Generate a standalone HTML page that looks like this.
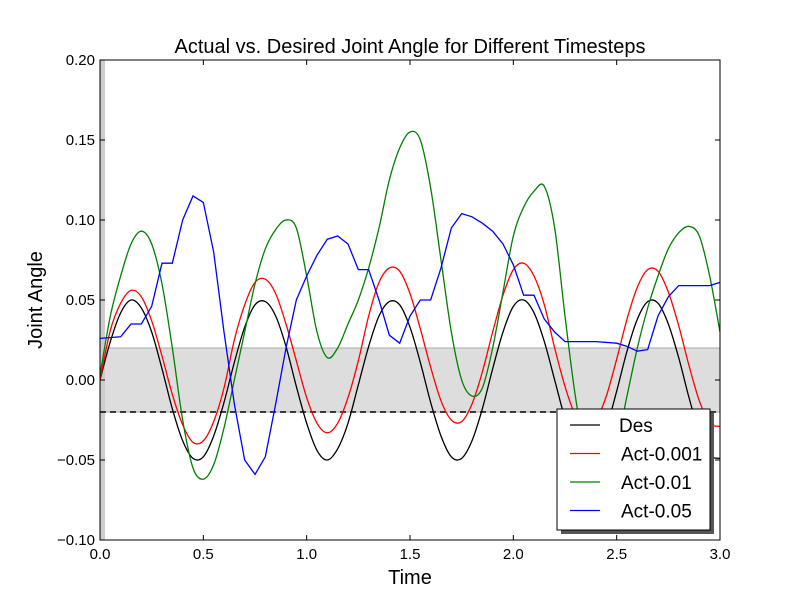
<!DOCTYPE html>
<html><head><meta charset="utf-8"><style>
body{margin:0;background:#fff;}
svg{display:block;font-family:"Liberation Sans",sans-serif;}
</style></head><body>
<svg id="chart" width="800" height="600">
<rect width="800" height="600" fill="#fff"/>
<g id="plot"></g>
</svg>
<script>
const times = [0,.05,.1,.15,.2,.25,.3,.35,.4,.45,.5,.55,.6,.65,.7,.75,.8,.85,.9,.95,1,1.05,1.1,1.15,1.2,1.25,1.3,1.35,1.4,1.45,1.5,1.55,1.6,1.65,1.7,1.75,1.8,1.85,1.9,1.95,2,2.05,2.1,2.15,2.2,2.25,2.3,2.35,2.4,2.45,2.5,2.55,2.6,2.65,2.7,2.75,2.8,2.85,2.9,2.95,3];
const desValues = [0,.024,.042,.050,.045,.030,.007,-.018,-.038,-.049,-.048,-.035,-.014,.011,.033,.047,.049,.040,.021,-.004,-.027,-.044,-.050,-.043,-.027,-.003,.021,.040,.049,.047,.033,.011,-.014,-.035,-.048,-.049,-.038,-.018,.007,.030,.046,.050,.042,.024,0,-.024,-.042,-.050,-.045,-.030,-.007,.018,.038,.049,.048,.035,.014,-.011,-.033,-.047,-.049];
const act001Values = [0,.031,.048,.056,.052,.037,.015,-.009,-.028,-.039,-.038,-.026,-.005,.025,.047,.061,.063,.054,.035,.012,-.011,-.027,-.033,-.027,-.011,.012,.040,.061,.070,.068,.054,.032,.008,-.013,-.025,-.026,-.015,.005,.030,.053,.069,.073,.065,.047,.020,-.004,-.022,-.030,-.025,-.010,.013,.038,.058,.069,.068,.055,.034,.009,-.013,-.027,-.029];
const act01Values = [.003,.040,.065,.085,.093,.085,.060,.020,-.025,-.055,-.062,-.053,-.030,0,.030,.060,.082,.094,.100,.095,.065,.030,.014,.020,.035,.050,.070,.095,.125,.145,.155,.150,.120,.075,.030,0,-.010,-.005,.020,.055,.090,.108,.118,.121,.095,.040,-.010,-.045,-.060,-.058,-.040,-.010,.020,.045,.065,.082,.092,.096,.090,.065,.030];
const act05Times = [0,.1,.15,.2,.25,.3,.35,.4,.45,.5,.55,.6,.65,.7,.75,.8,.85,.9,.95,1,1.05,1.1,1.15,1.2,1.25,1.3,1.35,1.4,1.45,1.5,1.55,1.6,1.65,1.7,1.75,1.8,1.85,1.9,1.95,2,2.05,2.1,2.15,2.2,2.25,2.4,2.5,2.55,2.6,2.65,2.7,2.75,2.8,2.95,3];
const act05Values = [.026,.027,.035,.035,.046,.073,.073,.100,.115,.111,.080,.030,-.015,-.050,-.059,-.048,-.015,.020,.050,.065,.078,.088,.090,.085,.069,.069,.050,.028,.023,.040,.050,.050,.070,.095,.104,.102,.098,.093,.085,.072,.053,.053,.038,.030,.024,.024,.023,.021,.018,.019,.040,.052,.059,.059,.061];
const xTicks = [0,0.5,1,1.5,2,2.5,3];
const xTickLabels = ["0.0","0.5","1.0","1.5","2.0","2.5","3.0"];
const yTicks = [-0.1,-0.05,0,0.05,0.1,0.15,0.2];
const yTickLabels = ["\u22120.10","\u22120.05","0.00","0.05","0.10","0.15","0.20"];
const bandLow = -0.02, bandHigh = 0.02;

const X0=100,X1=720,Y0=540,Y1=60;
const sx=v=>X0+(v-0)/(3-0)*(X1-X0);
const sy=v=>Y0-(v+0.1)/(0.3)*(Y0-Y1);
const NS="http://www.w3.org/2000/svg";
const g=document.getElementById('plot');
function mk(tag,attrs,parent){const e=document.createElementNS(NS,tag);for(const k in attrs)e.setAttribute(k,attrs[k]);(parent||g).appendChild(e);return e;}

const defs=mk('defs',{});
const cp=mk('clipPath',{id:'clip'},defs);
mk('rect',{x:X0,y:Y1,width:X1-X0,height:Y0-Y1},cp);

const band=mk('rect',{x:X0,y:sy(bandHigh),width:X1-X0,height:sy(bandLow)-sy(bandHigh),fill:'#dddddd',stroke:'#aaaaaa','stroke-width':1});


const strip=mk('rect',{x:X0,y:Y1,width:5,height:Y0-Y1,fill:'#cccccc'});


const dash=mk('line',{x1:X0,x2:X1,y1:sy(bandLow),y2:sy(bandLow),stroke:'#000','stroke-width':1.5,'stroke-dasharray':'6,4'});



function smoothPath(xs,ys){
  const p=xs.map((t,i)=>[sx(t),sy(ys[i])]);
  let d='M'+p[0][0]+','+p[0][1];
  for(let i=0;i<p.length-1;i++){
    const a=p[i-1]||p[i],b=p[i],c=p[i+1],e=p[i+2]||c;
    d+=' C'+(b[0]+(c[0]-a[0])/6)+','+(b[1]+(c[1]-a[1])/6)+' '+(c[0]-(e[0]-b[0])/6)+','+(c[1]-(e[1]-b[1])/6)+' '+c[0]+','+c[1];
  }
  return d;
}
function linePath(xs,ys){return xs.map((t,i)=>(i?'L':'M')+sx(t)+','+sy(ys[i])).join(' ');}
const lines=mk('g',{'clip-path':'url(#clip)'});
const s1=mk('path',{d:smoothPath(times,desValues),fill:'none',stroke:'#000','stroke-width':1.3},lines);


const s2=mk('path',{d:smoothPath(times,act001Values),fill:'none',stroke:'#ff0000','stroke-width':1.3},lines);


const s3=mk('path',{d:smoothPath(times,act01Values),fill:'none',stroke:'#008000','stroke-width':1.3},lines);


const s4=mk('path',{d:linePath(act05Times,act05Values),fill:'none',stroke:'#0000ff','stroke-width':1.3},lines);



xTicks.forEach((t,i)=>{
  const x=sx(t);
  mk('line',{x1:x,x2:x,y1:Y0,y2:Y0-5,stroke:'#000'});
  mk('line',{x1:x,x2:x,y1:Y1,y2:Y1+5,stroke:'#000'});
  const l=mk('text',{x:x,y:Y0+19,'text-anchor':'middle','font-size':15});
  l.textContent=xTickLabels[i];
  
  
});
yTicks.forEach((v,i)=>{
  const y=sy(v);
  mk('line',{x1:X0,x2:X0+5,y1:y,y2:y,stroke:'#000'});
  mk('line',{x1:X1,x2:X1-5,y1:y,y2:y,stroke:'#000'});
  const l=mk('text',{x:X0-5,y:y+5,'text-anchor':'end','font-size':15});
  l.textContent=yTickLabels[i];
  
  
});
const frame=mk('rect',{x:X0,y:Y1,width:X1-X0,height:Y0-Y1,fill:'none',stroke:'#000','stroke-width':1});



const title=mk('text',{x:410,y:53,'text-anchor':'middle','font-size':20});
title.textContent='Actual vs. Desired Joint Angle for Different Timesteps';


const xl=mk('text',{x:410,y:584,'text-anchor':'middle','font-size':20});
xl.textContent='Time';


const yl=mk('text',{x:0,y:0,'text-anchor':'middle','font-size':20,transform:'translate(42,300) rotate(-90)'});
yl.textContent='Joint Angle';



const lg=mk('g',{});


mk('rect',{x:561,y:413,width:153,height:121,fill:'#555'},lg);
mk('rect',{x:557,y:409,width:153,height:121,fill:'#fff',stroke:'#000','stroke-width':1},lg);
const names=['Des','Act-0.001','Act-0.01','Act-0.05'];
const cols=['#000','#ff0000','#008000','#0000ff'];
names.forEach((n,i)=>{
  const y=425+i*28.5;
  mk('line',{x1:570,x2:600,y1:y,y2:y,stroke:cols[i],'stroke-width':1.3},lg);
  const t=mk('text',{x:i?621:619,y:y+7,'font-size':19},lg);
  t.textContent=n;
  
  
});
</script>
</body></html>
